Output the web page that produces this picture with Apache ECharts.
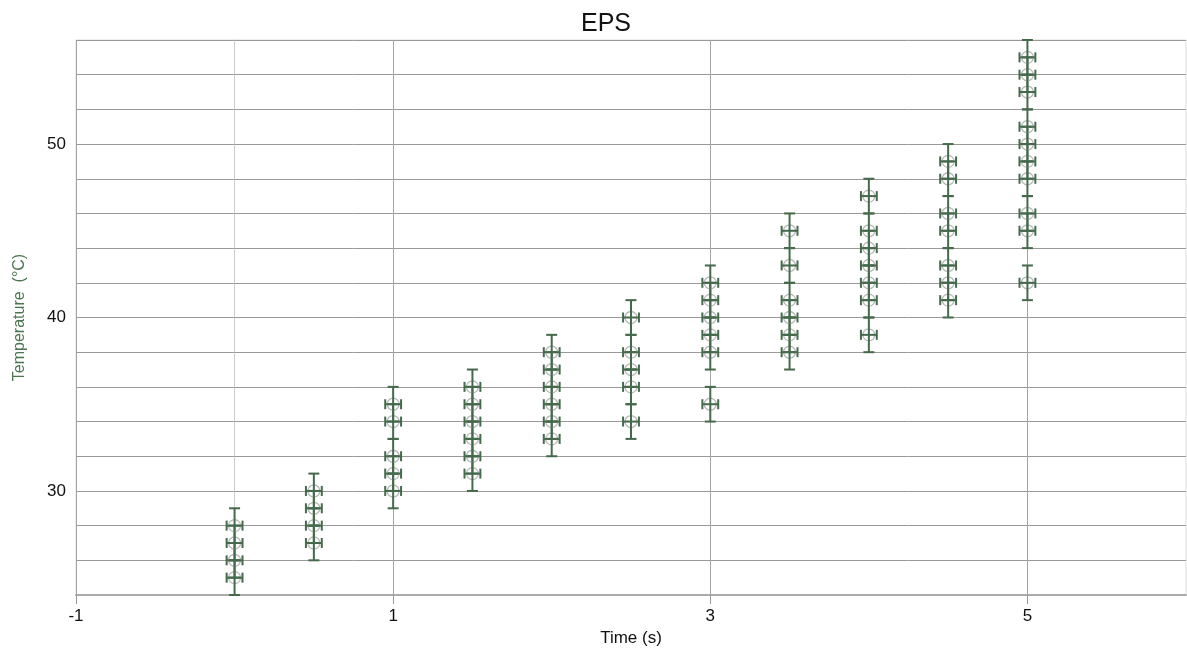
<!DOCTYPE html>
<html>
<head>
<meta charset="utf-8">
<title>EPS</title>
<script src="https://cdn.jsdelivr.net/npm/echarts@6/dist/echarts.min.js"></script>
<style>
    html, body { margin: 0; padding: 0; background: #fff; }
    #chart { width: 1187px; height: 653px; }
</style>
</head>
<body>
<div id="chart"></div>
<script>
// time values (s), one column of readings per time
const timeValues = [0, 0.5, 1, 1.5, 2, 2.5, 3, 3.5, 4, 4.5, 5]
// temperatures (°C) read at each time
const tempsAtTime = [
    [25, 26, 27, 28],
    [27, 28, 29, 30],
    [30, 31, 32, 34, 35],
    [31, 32, 33, 34, 35, 36],
    [33, 34, 35, 36, 37, 38],
    [34, 36, 37, 38, 40],
    [35, 38, 39, 40, 41, 42],
    [38, 39, 40, 41, 43, 45],
    [39, 41, 42, 43, 44, 45, 47],
    [41, 42, 43, 45, 46, 48, 49],
    [42, 45, 46, 48, 49, 50, 51, 53, 54, 55]
]
const timeError = 0.05
const tempError = 1
const xLabelValues = [-1, 1, 3, 5]
const yLabelValues = [30, 40, 50]

const points = []
timeValues.forEach((t, i) => {
    tempsAtTime[i].forEach(v => points.push([t, v]))
})

const barColor = '#45694b'

const chart = echarts.init(document.getElementById('chart'))
chart.setOption({
    backgroundColor: '#fff',
    animation: false,
    title: {
        text: 'EPS',
        left: 601,
        top: 7,
        textAlign: 'center',
        textStyle: {
            fontFamily: 'Liberation Sans',
            fontSize: 25,
            fontWeight: 'normal',
            color: '#111'
        }
    },
    grid: {
        left: 76,
        right: 1,
        top: 40,
        bottom: 58,
        show: true,
        borderColor: '#ddd',
        borderWidth: 1
    },
    xAxis: {
        type: 'value',
        min: -1,
        max: 6,
        interval: 1,
        name: 'Time (s)',
        nameLocation: 'middle',
        nameGap: 34,
        nameTextStyle: {
            fontFamily: 'Liberation Sans',
            fontSize: 17,
            color: '#111'
        },
        axisLine: { onZero: false, lineStyle: { color: '#aaa', width: 2 } },
        axisTick: {
            show: true,
            length: 9,
            customValues: xLabelValues,
            lineStyle: { color: '#999' }
        },
        axisLabel: {
            customValues: xLabelValues,
            margin: 13,
            fontFamily: 'Liberation Sans',
            fontSize: 17,
            color: '#111'
        },
        splitLine: { show: true, lineStyle: { color: '#a4a4a4', width: 1 } }
    },
    yAxis: {
        type: 'value',
        min: 24,
        max: 56,
        interval: 2,
        name: 'Temperature  (°C)',
        nameLocation: 'middle',
        nameGap: 48,
        nameTextStyle: {
            fontFamily: 'Liberation Sans',
            fontSize: 16,
            color: '#4a7550'
        },
        axisLine: { show: true, lineStyle: { color: '#ccc' } },
        axisTick: { show: true, length: 5, lineStyle: { color: '#999' } },
        axisLabel: {
            customValues: yLabelValues,
            margin: 10,
            fontFamily: 'Liberation Sans',
            fontSize: 17,
            color: '#111'
        },
        splitLine: { show: true, lineStyle: { color: '#999', width: 1 } }
    },
    series: [
        {
            type: 'custom',
            data: points,
            renderItem(params, api) {
                const x = api.value(0)
                const y = api.value(1)
                const c = api.coord([x, y])
                const top = api.coord([x, y + tempError])
                const bot = api.coord([x, y - tempError])
                const left = api.coord([x - timeError, y])
                const right = api.coord([x + timeError, y])
                const barStyle = { stroke: barColor, lineWidth: 2 }
                const capW = 5.5
                const capH = 5
                return {
                    type: 'group',
                    children: [
                        {
                            type: 'circle',
                            shape: { cx: c[0], cy: c[1], r: 6 },
                            style: { fill: 'none', stroke: '#b8b8b8', lineWidth: 1.3 }
                        },
                        { type: 'line', shape: { x1: top[0], y1: top[1], x2: bot[0], y2: bot[1] }, style: barStyle },
                        { type: 'line', shape: { x1: top[0] - capW, y1: top[1], x2: top[0] + capW, y2: top[1] }, style: barStyle },
                        { type: 'line', shape: { x1: bot[0] - capW, y1: bot[1], x2: bot[0] + capW, y2: bot[1] }, style: barStyle },
                        { type: 'line', shape: { x1: left[0], y1: left[1], x2: right[0], y2: right[1] }, style: barStyle },
                        { type: 'line', shape: { x1: left[0], y1: left[1] - capH, x2: left[0], y2: left[1] + capH }, style: barStyle },
                        { type: 'line', shape: { x1: right[0], y1: right[1] - capH, x2: right[0], y2: right[1] + capH }, style: barStyle }
                    ]
                }
            }
        }
    ]
})
</script>
</body>
</html>
